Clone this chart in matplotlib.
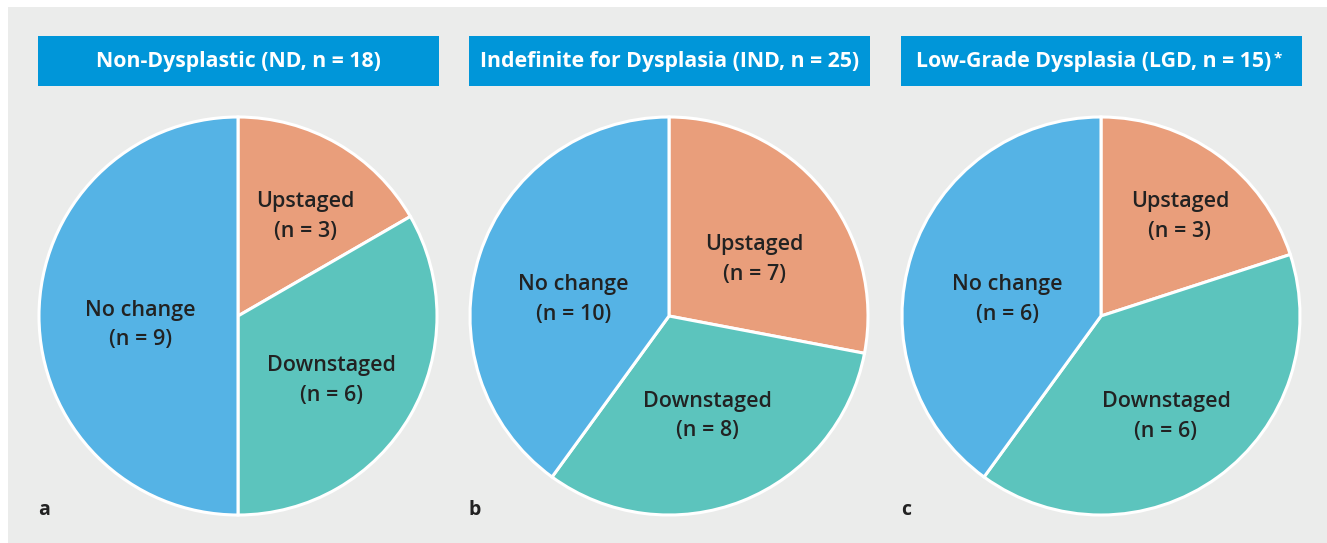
import matplotlib
matplotlib.use("Agg")
import matplotlib.pyplot as plt
from matplotlib.patches import Rectangle
from matplotlib.text import Annotation

# data
titles = [
    "Non-Dysplastic (ND, n = 18)",
    "Indefinite for Dysplasia (IND, n = 25)",
    "Low-Grade Dysplasia (LGD, n = 15)",
]
title_marks = ["", "", "*"]
panel_letters = ["a", "b", "c"]
categories = ["Upstaged", "Downstaged", "No change"]
upstaged = [3, 7, 3]
downstaged = [6, 8, 6]
no_change = [9, 10, 6]

# small hand nudges of the labels (px, right / down), per panel
label_nudge = [
    [(15, -8), (2, 12), (8, 9)],
    [(4, 11), (0, 2), (5, 16)],
    [(17, -14), (3, 15), (7, 16)],
]

colors = ["#e99e7b", "#5cc4bd", "#55b3e5"]
bg = "#ebeceb"
title_blue = "#0096d9"
text_col = "#222222"

plt.rcParams["font.family"] = ["Open Sans", "DejaVu Sans"]

W, H = 1327, 543
fig = plt.figure(figsize=(W / 100, H / 100), dpi=100)
fig.patch.set_facecolor("white")
fig.add_artist(Rectangle((8 / W, 0), 1 - 8 / W, 1 - 7 / H,
                         transform=fig.transFigure, facecolor=bg,
                         edgecolor="none", zorder=0))

centers_x = [238, 669, 1101]
cy, r = 316, 200
px = 1.005 / r  # data units per pixel

for i in range(3):
    cx = centers_x[i]
    ax = fig.add_axes([(cx - r) / W, (H - cy - r) / H, 2 * r / W, 2 * r / H])
    ax.set_facecolor("none")
    vals = [upstaged[i], downstaged[i], no_change[i]]
    labels = [f"{c}\n(n = {v})" for c, v in zip(categories, vals)]
    wedges, texts = ax.pie(vals, labels=labels, colors=colors, startangle=90,
                           counterclock=False, labeldistance=0.53,
                           wedgeprops=dict(edgecolor="white", linewidth=2.2),
                           textprops=dict(fontsize=15.5, color=text_col,
                                          fontweight="semibold",
                                          linespacing=1.55))
    for t, (dx, dy) in zip(texts, label_nudge[i]):
        t.set_ha("center")
        t.set_va("center")
        x, y = t.get_position()
        t.set_position((x + dx * px, y - dy * px))
    ax.set_xlim(-1.005, 1.005)
    ax.set_ylim(-1.005, 1.005)
    ax.set_aspect("equal")

    # title box
    bx0, bx1, by0, by1 = cx - r, cx + r + 1, 36, 86
    fig.add_artist(Rectangle((bx0 / W, 1 - by1 / H), (bx1 - bx0) / W,
                             (by1 - by0) / H, transform=fig.transFigure,
                             facecolor=title_blue, edgecolor="none"))
    tx = (bx0 + bx1) / 2 - (8 if title_marks[i] else 0)
    tt = fig.text(tx / W, 1 - (by0 + by1) / 2 / H, titles[i],
                  ha="center", va="center", color="white", fontsize=15.3,
                  fontweight="bold")
    if title_marks[i]:
        fig.add_artist(Annotation(title_marks[i], xy=(1, 1), xycoords=tt,
                                  xytext=(2, -1), textcoords="offset points",
                                  ha="left", va="top", color="white",
                                  fontsize=11, fontweight="bold"))
    fig.text((cx - 200) / W, 1 - 510 / H, panel_letters[i], ha="left",
             va="center", fontsize=14, fontweight="bold", color=text_col)

fig.savefig("out.png", dpi=100, facecolor=fig.get_facecolor())
